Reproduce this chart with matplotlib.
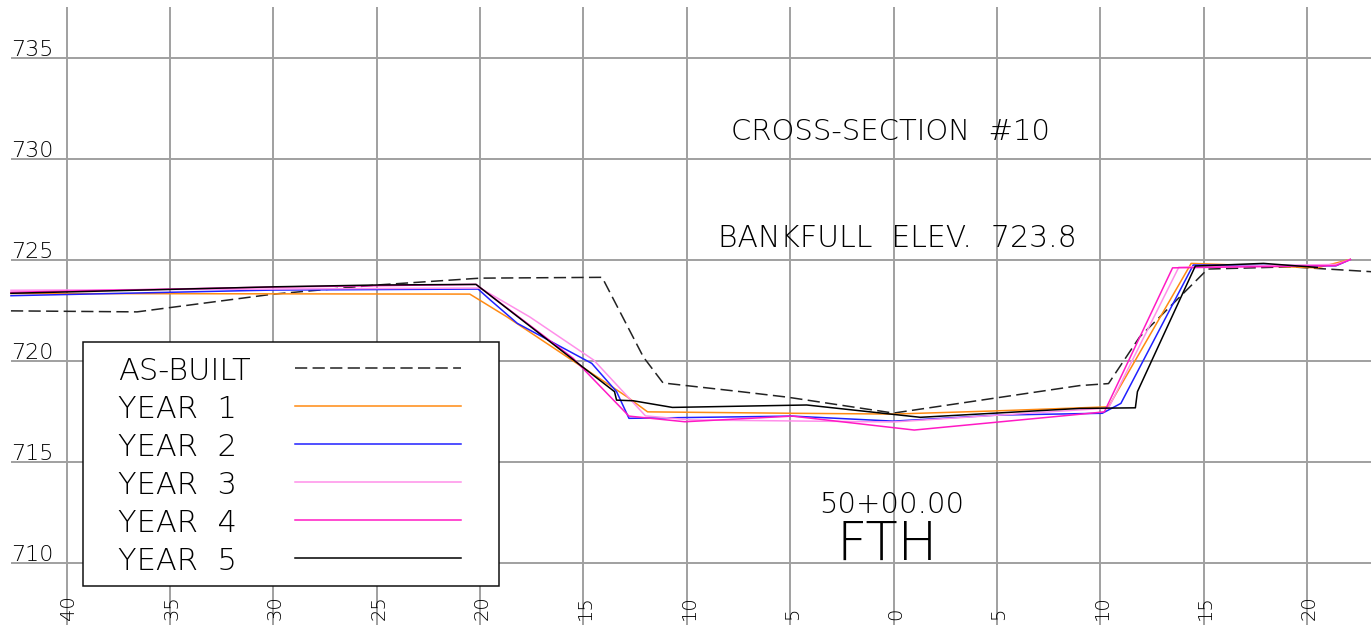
import matplotlib.pyplot as plt
from matplotlib.patches import Rectangle

# offsets from channel centreline (ft) and surveyed elevations (ft)
asbuilt_x = [-42.7, -36.6, -30.0, -25.0, -20.0, -14.1, -12.1, -11.15, -7.4, -5.15, 0.0, 9.0, 10.4, 11.9, 15.2, 19.2, 23.1]
asbuilt_y = [722.5, 722.45, 723.33, 723.78, 724.12, 724.16, 720.21, 718.93, 718.5, 718.23, 717.44, 718.8, 718.9, 721.2, 724.57, 724.68, 724.44]

year1_x = [-42.7, -20.5, -18.7, -12.9, -11.9, -4.9, 0.0, 5.0, 10.4, 14.4, 20.5, 22.1]
year1_y = [723.36, 723.33, 722.2, 718.25, 717.5, 717.43, 717.39, 717.55, 717.75, 724.85, 724.63, 725.05]

year2_x = [-42.7, -30.0, -20.1, -19.5, -18.2, -14.6, -13.4, -12.8, -4.9, 0.0, 5.0, 10.1, 11.0, 14.5, 21.4, 22.1]
year2_y = [723.25, 723.53, 723.58, 723.03, 721.88, 719.9, 718.5, 717.18, 717.29, 717.04, 717.34, 717.43, 717.92, 724.77, 724.73, 725.04]

year3_x = [-42.7, -20.0, -17.6, -14.5, -12.0, -9.8, 0.0, 10.4, 13.8, 21.4, 22.1]
year3_y = [723.52, 723.63, 722.2, 720.06, 717.3, 717.1, 717.0, 717.69, 724.66, 724.8, 725.04]

year4_x = [-42.7, -30.0, -20.2, -15.5, -12.8, -10.1, -4.9, 1.0, 9.0, 10.2, 13.5, 21.4, 22.1]
year4_y = [723.42, 723.68, 723.81, 720.15, 717.29, 717.01, 717.29, 716.6, 717.38, 717.5, 724.63, 724.74, 725.04]

year5_x = [-42.7, -30.0, -25.0, -20.2, -13.5, -13.4, -12.6, -10.7, -4.2, 1.3, 9.0, 11.7, 11.8, 14.6, 17.9, 20.5]
year5_y = [723.37, 723.69, 723.78, 723.81, 718.5, 718.08, 718.05, 717.72, 717.84, 717.23, 717.67, 717.7, 718.5, 724.72, 724.85, 724.65]

series_names = ["AS-BUILT", "YEAR  1", "YEAR  2", "YEAR  3", "YEAR  4", "YEAR  5"]
series_x = [asbuilt_x, year1_x, year2_x, year3_x, year4_x, year5_x]
series_y = [asbuilt_y, year1_y, year2_y, year3_y, year4_y, year5_y]
colors = ["#222222", "#ff8a12", "#2020ff", "#ff90ea", "#ff1ac4", "#000000"]
styles = [(0, (8, 3.5)), "-", "-", "-", "-", "-"]

x_ticks = list(range(-40, 21, 5))
y_ticks = list(range(710, 736, 5))

font = dict(family="DejaVu Sans", fontweight="light", color="#000000")

fig = plt.figure(figsize=(13.71, 6.29), dpi=100)
ax = fig.add_axes([0, 0, 1, 1])
ax.set_xlim(-43.23, 23.10)
ax.set_ylim(706.75, 737.89)
ax.axis("off")

grid = dict(color="#a0a0a0", lw=1.4, zorder=1)
ax.vlines(x_ticks, 706.95, 737.55, **grid)
ax.hlines(y_ticks, -42.7, 23.10, **grid)

for v in y_ticks:
    ax.text(-40.66, v + 0.12, str(v), ha="right", va="baseline", fontsize=16, **font)
for v in x_ticks:
    ax.text(v + 0.1, 707.19, str(abs(v)), rotation=90, ha="center", va="bottom", fontsize=14, **font)

for xs, ys, c, ls in zip(series_x, series_y, colors, styles):
    ax.plot(xs, ys, color=c, lw=1.1, ls=ls, zorder=3)

# titles on the sheet
ax.text(-0.15, 730.95, "CROSS-SECTION  #10", ha="center", va="baseline", fontsize=21, **font)
ax.text(0.19, 725.66, "BANKFULL  ELEV.  723.8", ha="center", va="baseline", fontsize=21.5, **font)
ax.text(-0.07, 712.49, "50+00.00", ha="center", va="baseline", fontsize=21, **font)
ax.text(-0.31, 710.16, "FTH", ha="center", va="baseline", fontsize=38, **font)

# legend box drawn by hand: label on the left, line sample on the right
ax.add_patch(Rectangle((-39.2, 708.88), 20.12, 12.08, facecolor="white",
                       edgecolor="#111111", lw=1.1, zorder=4))
for i, (name, c, ls) in enumerate(zip(series_names, colors, styles)):
    ly = 719.67 - i * 1.88
    ax.text(-37.53, ly - 0.58, name, ha="left", va="baseline", fontsize=22, zorder=5, **font)
    ax.plot([-28.95, -20.92], [ly, ly], color=c, lw=1.1, ls=ls, zorder=5)

fig.savefig("out.png", dpi=100, facecolor="white")
